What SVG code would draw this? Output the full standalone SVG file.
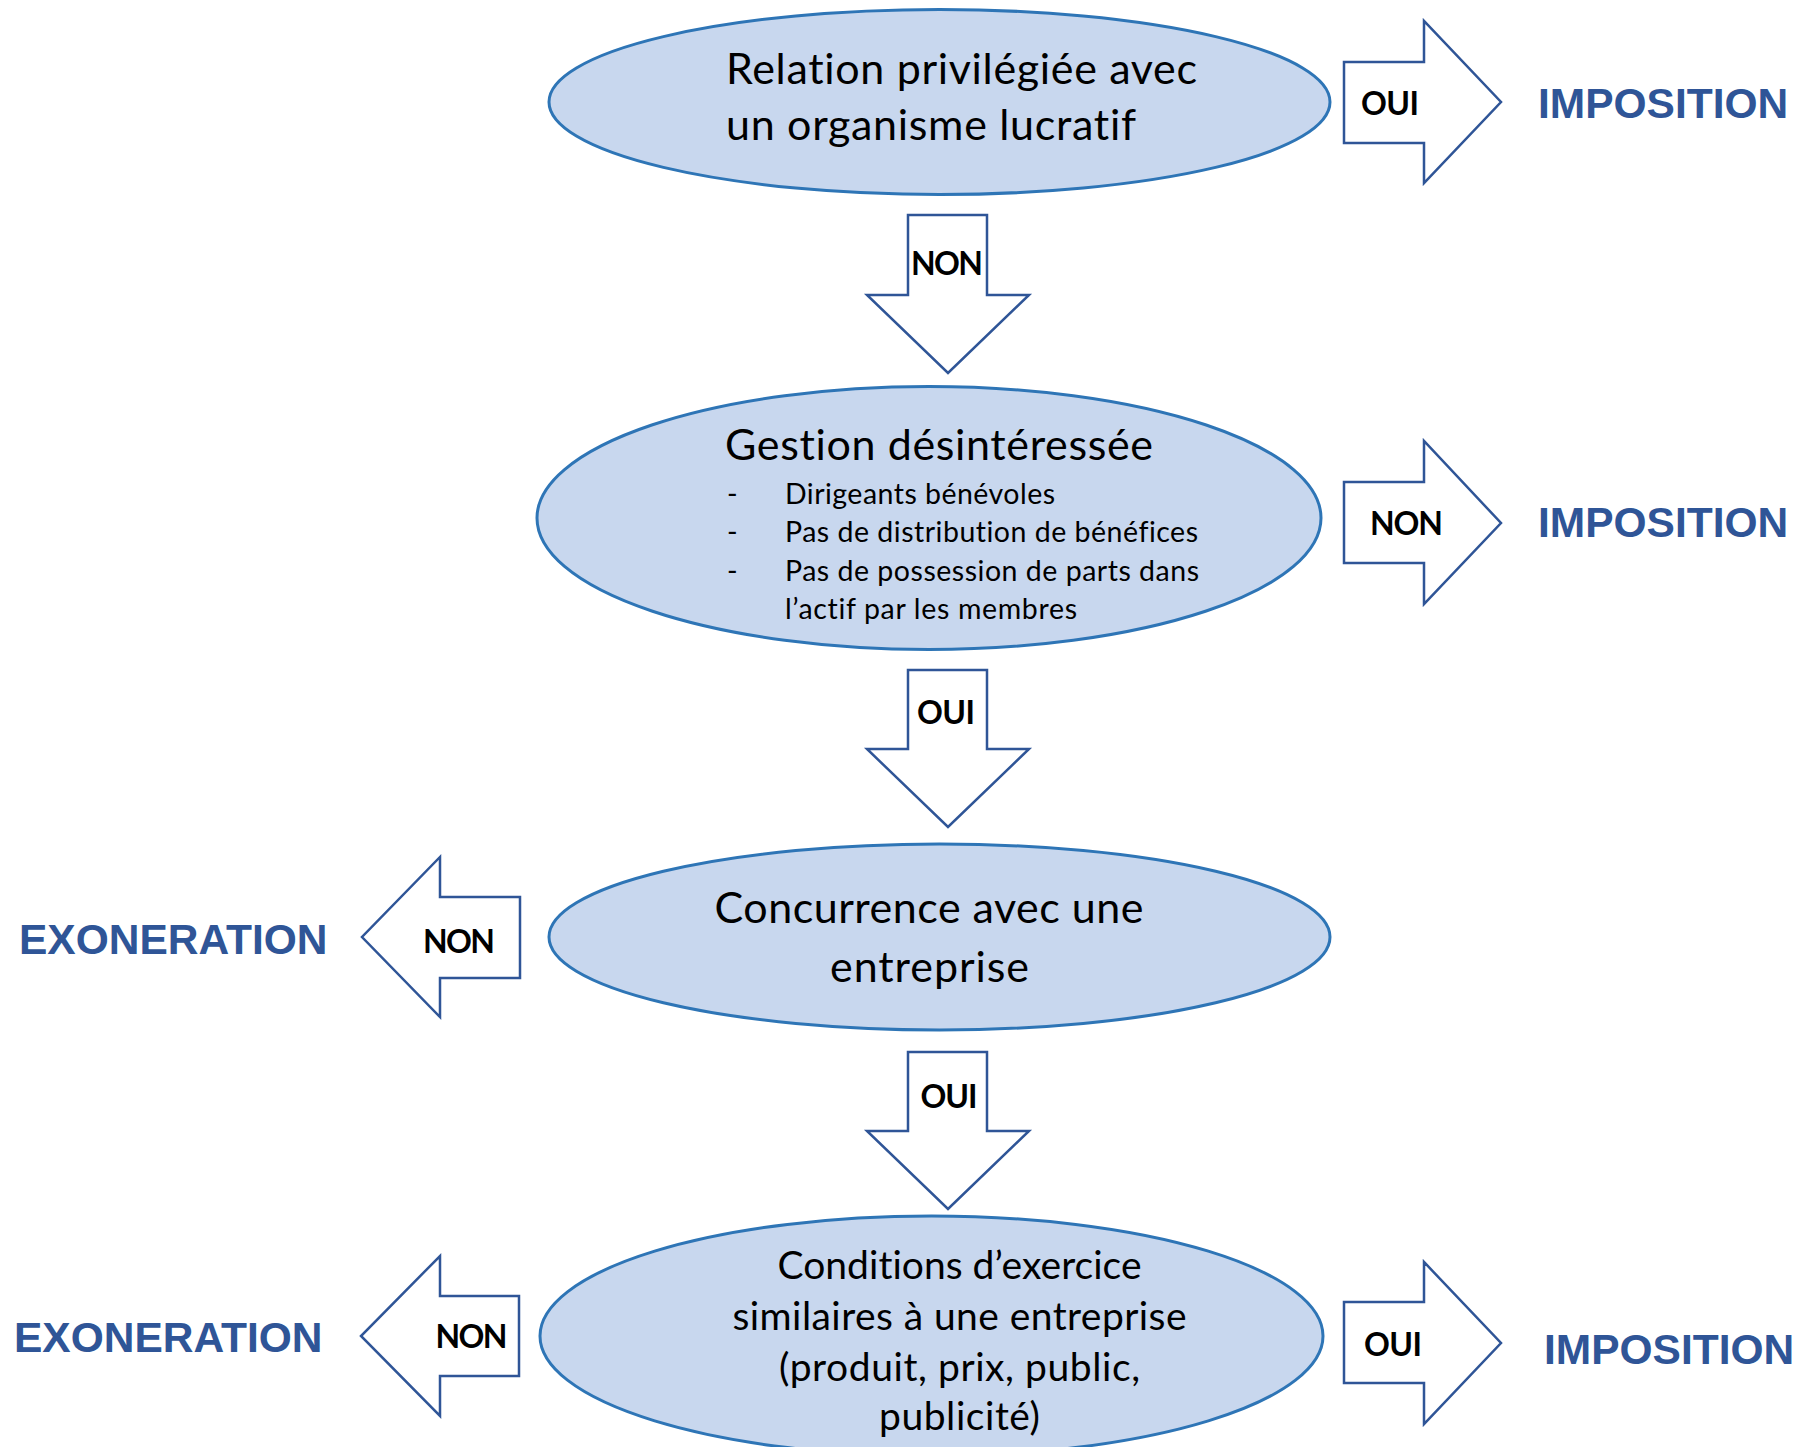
<svg xmlns="http://www.w3.org/2000/svg" width="1793" height="1447" viewBox="0 0 1793 1447">
<style>
.node{fill:#C8D7EE;stroke:#2E75B6;stroke-width:3}
.arr{fill:#FFFFFF;stroke:#2F5597;stroke-width:2.5;stroke-linejoin:miter}
.t{font-family:Lato,"Open Sans","Liberation Sans",sans-serif;fill:#000000;font-variant-ligatures:none}
.title{font-size:43px}
.bul{font-size:28.5px}
.e4{font-size:39px}
.lbl{font-family:Lato,"Liberation Sans",sans-serif;font-weight:bold;font-size:32px;fill:#000000}
.out{font-family:"Liberation Sans",Arial,sans-serif;font-weight:bold;font-size:42.5px;fill:#2F5597}
</style>
<rect x="0" y="0" width="1793" height="1447" fill="#FFFFFF"/>

<g id="connectors">
  <g id="arrow-q1-oui">
    <path class="arr" d="M1344,62 H1424 V21 L1501,102 L1424,183 V143 H1344 Z"/>
    <text class="lbl" x="1361" y="114.5" textLength="58">OUI</text>
  </g>
  <g id="arrow-q1-non">
    <path class="arr" d="M908,215 H987 V295 H1029 L948,373 L867,295 H908 Z"/>
    <text class="lbl" x="911" y="274.5" textLength="72">NON</text>
  </g>
  <g id="arrow-q2-non">
    <path class="arr" d="M1344,482 H1424 V441 L1501,523 L1424,604 V563 H1344 Z"/>
    <text class="lbl" x="1370" y="535" textLength="73">NON</text>
  </g>
  <g id="arrow-q2-oui">
    <path class="arr" d="M908,670 H987 V749 H1029 L948,827 L867,749 H908 Z"/>
    <text class="lbl" x="917" y="724" textLength="58">OUI</text>
  </g>
  <g id="arrow-q3-non">
    <path class="arr" d="M520,897 H440 V857 L362,937 L440,1017 V978 H520 Z"/>
    <text class="lbl" x="423" y="953" textLength="72">NON</text>
  </g>
  <g id="arrow-q3-oui">
    <path class="arr" d="M908,1052 H987 V1131 H1029 L948,1209 L867,1131 H908 Z"/>
    <text class="lbl" x="920.5" y="1108" textLength="57">OUI</text>
  </g>
  <g id="arrow-q4-non">
    <path class="arr" d="M519,1296 H440 V1256 L361,1336 L440,1416 V1376 H519 Z"/>
    <text class="lbl" x="435.5" y="1347.5" textLength="72">NON</text>
  </g>
  <g id="arrow-q4-oui">
    <path class="arr" d="M1344,1302 H1424 V1262 L1501,1343 L1424,1424 V1383 H1344 Z"/>
    <text class="lbl" x="1364" y="1355.5" textLength="58">OUI</text>
  </g>
</g>

<g id="q1">
  <ellipse class="node" cx="939.5" cy="102" rx="390.5" ry="92.5"/>
  <text class="t title" x="726" y="83.5" textLength="471">Relation privilégiée avec</text>
  <text class="t title" x="726" y="139.5" textLength="410">un organisme lucratif</text>
</g>

<g id="q2">
  <ellipse class="node" cx="929" cy="518" rx="392" ry="131.5"/>
  <text class="t title" x="725" y="460" textLength="428">Gestion désintéressée</text>
  <text class="t bul" x="727" y="504">-</text>
  <text class="t bul" x="785" y="504" textLength="270">Dirigeants bénévoles</text>
  <text class="t bul" x="727" y="542">-</text>
  <text class="t bul" x="785" y="542" textLength="413">Pas de distribution de bénéfices</text>
  <text class="t bul" x="727" y="581">-</text>
  <text class="t bul" x="785" y="581" textLength="414">Pas de possession de parts dans</text>
  <text class="t bul" x="785" y="619" textLength="292">l’actif par les membres</text>
</g>

<g id="q3">
  <ellipse class="node" cx="939.5" cy="937" rx="390.5" ry="93"/>
  <text class="t title" x="929" y="923" text-anchor="middle" textLength="429">Concurrence avec une</text>
  <text class="t title" x="929.5" y="981.5" text-anchor="middle" textLength="199">entreprise</text>
</g>

<g id="q4">
  <ellipse class="node" cx="931.5" cy="1336" rx="391.5" ry="120"/>
  <text class="t e4" x="959.5" y="1279" text-anchor="middle" textLength="364">Conditions d’exercice</text>
  <text class="t e4" x="959.5" y="1330" text-anchor="middle" textLength="454">similaires à une entreprise</text>
  <text class="t e4" x="959.5" y="1381" text-anchor="middle" textLength="361">(produit, prix, public,</text>
  <text class="t e4" x="959.5" y="1430" text-anchor="middle" textLength="161">publicité)</text>
</g>

<g id="out-imposition-1"><text class="out" x="1538" y="118">IMPOSITION</text></g>
<g id="out-imposition-2"><text class="out" x="1538" y="536.5">IMPOSITION</text></g>
<g id="out-exoneration-1"><text class="out" x="19" y="954">EXONERATION</text></g>
<g id="out-exoneration-2"><text class="out" x="14" y="1352">EXONERATION</text></g>
<g id="out-imposition-3"><text class="out" x="1544" y="1363.5">IMPOSITION</text></g>
</svg>
